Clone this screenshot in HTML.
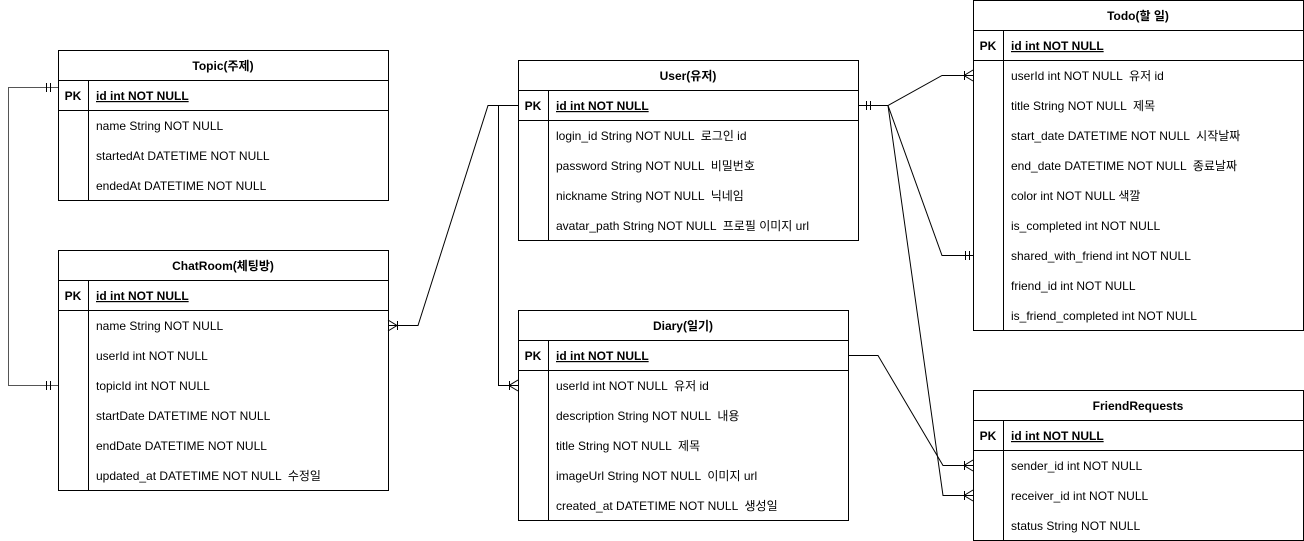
<!DOCTYPE html>
<html><head><meta charset="utf-8"><style>
html,body{margin:0;padding:0;background:#fff;width:1304px;height:541px;overflow:hidden}
svg text{font-family:"Liberation Sans","Noto Sans CJK KR",sans-serif;font-size:12px;fill:#000;white-space:pre}
.b{font-weight:bold}
</style></head><body>
<svg width="1304" height="541" xmlns="http://www.w3.org/2000/svg" xml:space="preserve">
<g fill="none" stroke="#000" stroke-width="1">
<rect x="58.5" y="50.5" width="330" height="150"/>
<line x1="58" y1="80.5" x2="388" y2="80.5"/><line x1="58" y1="110.5" x2="388" y2="110.5"/>
<line x1="88.5" y1="80" x2="88.5" y2="200"/>
<rect x="58.5" y="250.5" width="330" height="240"/>
<line x1="58" y1="280.5" x2="388" y2="280.5"/><line x1="58" y1="310.5" x2="388" y2="310.5"/>
<line x1="88.5" y1="280" x2="88.5" y2="490"/>
<rect x="518.5" y="60.5" width="340" height="180"/>
<line x1="518" y1="90.5" x2="858" y2="90.5"/><line x1="518" y1="120.5" x2="858" y2="120.5"/>
<line x1="548.5" y1="90" x2="548.5" y2="240"/>
<rect x="518.5" y="310.5" width="330" height="210"/>
<line x1="518" y1="340.5" x2="848" y2="340.5"/><line x1="518" y1="370.5" x2="848" y2="370.5"/>
<line x1="548.5" y1="340" x2="548.5" y2="520"/>
<rect x="973.5" y="0.5" width="330" height="330"/>
<line x1="973" y1="30.5" x2="1303" y2="30.5"/><line x1="973" y1="60.5" x2="1303" y2="60.5"/>
<line x1="1003.5" y1="30" x2="1003.5" y2="330"/>
<rect x="973.5" y="390.5" width="330" height="150"/>
<line x1="973" y1="420.5" x2="1303" y2="420.5"/><line x1="973" y1="450.5" x2="1303" y2="450.5"/>
<line x1="1003.5" y1="420" x2="1003.5" y2="540"/>

<polyline points="58,87.5 8.5,87.5 8.5,385.5 58,385.5" stroke="#555"/>
<line x1="50.5" y1="83" x2="50.5" y2="92"/><line x1="46.5" y1="83" x2="46.5" y2="92"/>
<line x1="50.5" y1="381" x2="50.5" y2="390"/><line x1="46.5" y1="381" x2="46.5" y2="390"/>

<polyline points="518,105.5 488,105.5 418,325.5 388,325.5"/>
<line x1="397.5" y1="321" x2="397.5" y2="330"/><polyline points="388,320 397,325.5 388,331"/>
<polyline points="498.5,105.5 498.5,385.5 518,385.5"/>
<line x1="509.5" y1="381" x2="509.5" y2="390"/><polyline points="518,380 509,385.5 518,391"/>

<polyline points="858,105.5 888,105.5 942,75.5 973,75.5"/>
<line x1="866.5" y1="101" x2="866.5" y2="110"/><line x1="870.5" y1="101" x2="870.5" y2="110"/>
<line x1="964.5" y1="71" x2="964.5" y2="80"/><polyline points="973,70 964,75.5 973,81"/>
<polyline points="888,105.5 942,255.5 973,255.5"/>
<line x1="965.5" y1="251" x2="965.5" y2="260"/><line x1="969.5" y1="251" x2="969.5" y2="260"/>
<polyline points="888,105.5 943,495.5 973,495.5"/>
<line x1="964.5" y1="491" x2="964.5" y2="500"/><polyline points="973,490 964,495.5 973,501"/>
<polyline points="848,355.5 878,355.5 943,465.5 973,465.5"/>
<line x1="964.5" y1="461" x2="964.5" y2="470"/><polyline points="973,460 964,465.5 973,471"/>
</g>

<text x="223" y="70" text-anchor="middle" class="b">Topic(주제)</text>
<text x="73" y="100" text-anchor="middle" class="b">PK</text>
<text x="96" y="100" class="b" text-decoration="underline">id int NOT NULL</text>
<text x="96" y="130">name String NOT NULL</text>
<text x="96" y="160">startedAt DATETIME NOT NULL</text>
<text x="96" y="190">endedAt DATETIME NOT NULL</text>

<text x="223" y="270" text-anchor="middle" class="b">ChatRoom(체팅방)</text>
<text x="73" y="300" text-anchor="middle" class="b">PK</text>
<text x="96" y="300" class="b" text-decoration="underline">id int NOT NULL</text>
<text x="96" y="330">name String NOT NULL</text>
<text x="96" y="360">userId int NOT NULL</text>
<text x="96" y="390">topicId int NOT NULL</text>
<text x="96" y="420">startDate DATETIME NOT NULL</text>
<text x="96" y="450">endDate DATETIME NOT NULL</text>
<text x="96" y="480">updated_at DATETIME NOT NULL  수정일</text>

<text x="688" y="80" text-anchor="middle" class="b">User(유저)</text>
<text x="533" y="110" text-anchor="middle" class="b">PK</text>
<text x="556" y="110" class="b" text-decoration="underline">id int NOT NULL</text>
<text x="556" y="140">login_id String NOT NULL  로그인 id</text>
<text x="556" y="170">password String NOT NULL  비밀번호</text>
<text x="556" y="200">nickname String NOT NULL  닉네임</text>
<text x="556" y="230">avatar_path String NOT NULL  프로필 이미지 url</text>

<text x="683" y="330" text-anchor="middle" class="b">Diary(일기)</text>
<text x="533" y="360" text-anchor="middle" class="b">PK</text>
<text x="556" y="360" class="b" text-decoration="underline">id int NOT NULL</text>
<text x="556" y="390">userId int NOT NULL  유저 id</text>
<text x="556" y="420">description String NOT NULL  내용</text>
<text x="556" y="450">title String NOT NULL  제목</text>
<text x="556" y="480">imageUrl String NOT NULL  이미지 url</text>
<text x="556" y="510">created_at DATETIME NOT NULL  생성일</text>

<text x="1138" y="20" text-anchor="middle" class="b">Todo(할 일)</text>
<text x="988" y="50" text-anchor="middle" class="b">PK</text>
<text x="1011" y="50" class="b" text-decoration="underline">id int NOT NULL</text>
<text x="1011" y="80">userId int NOT NULL  유저 id</text>
<text x="1011" y="110">title String NOT NULL  제목</text>
<text x="1011" y="140">start_date DATETIME NOT NULL  시작날짜</text>
<text x="1011" y="170">end_date DATETIME NOT NULL  종료날짜</text>
<text x="1011" y="200">color int NOT NULL 색깔</text>
<text x="1011" y="230">is_completed int NOT NULL</text>
<text x="1011" y="260">shared_with_friend int NOT NULL</text>
<text x="1011" y="290">friend_id int NOT NULL</text>
<text x="1011" y="320">is_friend_completed int NOT NULL</text>

<text x="1138" y="410" text-anchor="middle" class="b">FriendRequests</text>
<text x="988" y="440" text-anchor="middle" class="b">PK</text>
<text x="1011" y="440" class="b" text-decoration="underline">id int NOT NULL</text>
<text x="1011" y="470">sender_id int NOT NULL</text>
<text x="1011" y="500">receiver_id int NOT NULL</text>
<text x="1011" y="530">status String NOT NULL</text>
</svg>
</body></html>
